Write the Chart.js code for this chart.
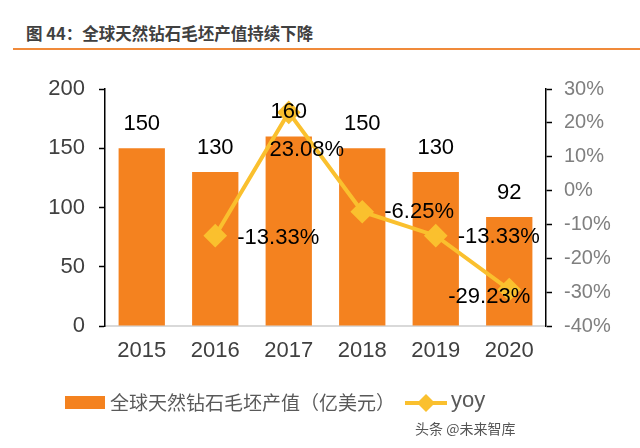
<!DOCTYPE html>
<html>
<head>
<meta charset="utf-8">
<script src="https://cdn.jsdelivr.net/npm/chart.js@4/dist/chart.umd.min.js"></script>
<style>
  body { margin: 0; background: #fff; }
  #wrap { position: relative; width: 640px; height: 448px; overflow: hidden; }
  #title { position: absolute; left: 26px; top: 21px; font: bold 16.5px "Noto Sans CJK SC", sans-serif; color: #404040; }
  #rule { position: absolute; left: 13px; right: 0; top: 48px; height: 2px; background: #F08A3A; }
  #mark { position: absolute; left: 415px; top: 418px; font: 14px "Noto Sans CJK SC", sans-serif; color: #555; }
  canvas { position: absolute; left: 0; top: 0; }
</style>
</head>
<body>
<div id="wrap">
  <div id="title">图 44：全球天然钻石毛坯产值持续下降</div>
  <div id="rule"></div>
  <canvas id="c" width="640" height="448"></canvas>
  <div id="mark">头条 @未来智库</div>
</div>
<script>
const years = ['2015', '2016', '2017', '2018', '2019', '2020'];
const output = [150, 130, 160, 150, 130, 92];
const yoy = [null, -13.33, 23.08, -6.25, -13.33, -29.23];
const barLabel = '全球天然钻石毛坯产值（亿美元）';
const lineLabel = 'yoy';

const BAR = '#F4821F';
const LINE = '#FAC02E';
const NUM_FONT = '"Liberation Sans", Arial, sans-serif';

// offsets for yoy labels relative to the point [dx, dy, align]
const yoyPos = [null, [22, 2, 'left'], [18, 38, 'center'], [22, 0, 'left'], [22, 1, 'left'], [-20, 7, 'center']];

const labelPlugin = {
  id: 'labels',
  afterDatasetsDraw(chart) {
    const ctx = chart.ctx;
    ctx.save();
    ctx.font = '22px ' + NUM_FONT;
    ctx.fillStyle = '#000';
    ctx.textBaseline = 'middle';
    chart.getDatasetMeta(0).data.forEach((bar, i) => {
      ctx.textAlign = 'center';
      ctx.fillText(String(output[i]), bar.x, bar.y - 24);
    });
    chart.getDatasetMeta(1).data.forEach((pt, i) => {
      if (yoy[i] == null) return;
      const p = yoyPos[i];
      ctx.textAlign = p[2];
      ctx.fillText(yoy[i].toFixed(2) + '%', pt.x + p[0], pt.y + p[1]);
    });
    ctx.restore();
  },
  afterDraw(chart) {
    // legend
    const ctx = chart.ctx;
    ctx.save();
    ctx.fillStyle = BAR;
    ctx.fillRect(65, 396, 40, 13);
    ctx.font = '19px "Noto Sans CJK SC", sans-serif';
    ctx.fillStyle = '#595959';
    ctx.textBaseline = 'middle';
    ctx.textAlign = 'left';
    ctx.fillText(barLabel, 110, 403);
    ctx.strokeStyle = LINE;
    ctx.lineWidth = 4;
    ctx.beginPath();
    ctx.moveTo(405, 403);
    ctx.lineTo(447, 403);
    ctx.stroke();
    ctx.fillStyle = LINE;
    ctx.beginPath();
    ctx.moveTo(426, 394); ctx.lineTo(435, 403); ctx.lineTo(426, 412); ctx.lineTo(417, 403);
    ctx.closePath();
    ctx.fill();
    ctx.fillStyle = '#595959';
    ctx.font = '22px ' + NUM_FONT;
    ctx.fillText(lineLabel, 451, 401);
    ctx.restore();
  }
};

new Chart(document.getElementById('c'), {
  data: {
    labels: years,
    datasets: [
      {
        type: 'bar',
        label: barLabel,
        data: output,
        backgroundColor: BAR,
        yAxisID: 'y',
        categoryPercentage: 1,
        barPercentage: 0.63,
        order: 2
      },
      {
        type: 'line',
        label: lineLabel,
        data: yoy,
        borderColor: LINE,
        backgroundColor: LINE,
        borderWidth: 4,
        pointStyle: 'rectRot',
        pointRadius: 9,
        pointHoverRadius: 9,
        yAxisID: 'y1',
        spanGaps: false,
        tension: 0,
        order: 1
      }
    ]
  },
  options: {
    responsive: false,
    animation: false,
    events: [],
    layout: { padding: { left: 0, right: 0, top: 89, bottom: 82 } },
    plugins: { legend: { display: false }, tooltip: { enabled: false } },
    scales: {
      x: {
        grid: { display: false },
        border: { color: '#D9D9D9', width: 2 },
        ticks: { color: '#404040', font: { size: 22, family: NUM_FONT }, padding: 4 },
        afterFit: s => { s.height = 40; }
      },
      y: {
        position: 'left',
        min: 0, max: 200,
        ticks: { stepSize: 50, color: '#404040', font: { size: 22, family: NUM_FONT }, padding: 14 },
        grid: { drawOnChartArea: false, tickLength: 6, color: '#000', tickWidth: 1.5 },
        border: { color: '#000', width: 1.5 },
        afterFit: s => { s.width = 105; }
      },
      y1: {
        position: 'right',
        min: -40, max: 30,
        ticks: { stepSize: 10, color: '#7F7F7F', font: { size: 20, family: NUM_FONT }, padding: 12,
                 callback: v => v + '%' },
        grid: { drawOnChartArea: false, tickLength: 6, color: '#000', tickWidth: 1.5 },
        border: { color: '#000', width: 1.5 },
        afterFit: s => { s.width = 94; }
      }
    }
  },
  plugins: [labelPlugin]
});
</script>
</body>
</html>
